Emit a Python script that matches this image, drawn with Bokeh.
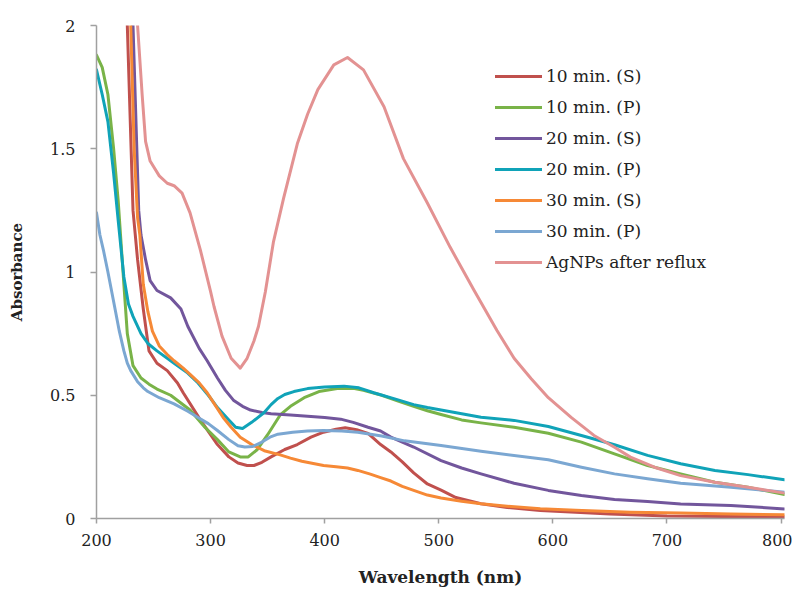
from bokeh.plotting import figure
from bokeh.models import Range1d, FixedTicker, CustomJSTickFormatter, Legend, LegendItem
from bokeh.embed import file_html
from bokeh.resources import INLINE

# ---- data ----
wl_10s = [225, 227, 232, 236, 239, 241, 246, 253, 262, 271, 276, 291, 306, 316, 324, 332, 338, 345, 353, 365, 376,
          388, 399, 410, 418, 428, 438, 449, 458, 468, 478, 490, 502, 515, 537, 560, 589, 620, 650, 700, 750, 803]
ab_10s = [2.3, 2.0, 1.25, 1.05, 0.93, 0.85, 0.68, 0.63, 0.60, 0.55, 0.51, 0.40, 0.30, 0.25, 0.225, 0.215, 0.215,
          0.228, 0.25, 0.28, 0.30, 0.33, 0.35, 0.362, 0.368, 0.36, 0.345, 0.30, 0.27, 0.23, 0.185, 0.14, 0.115,
          0.085, 0.06, 0.045, 0.032, 0.025, 0.018, 0.01, 0.008, 0.006]

wl_10p = [200, 205, 210, 215, 219, 224, 227, 232, 239, 246, 253, 265, 282, 295, 306, 316, 326, 333, 341, 350, 361,
          370, 382, 395, 411, 425, 434, 450, 465, 478, 490, 502, 520, 537, 566, 596, 625, 654, 683, 712, 742, 771,
          803]
ab_10p = [1.88, 1.83, 1.72, 1.50, 1.29, 0.95, 0.75, 0.62, 0.57, 0.545, 0.525, 0.50, 0.44, 0.37, 0.32, 0.27, 0.25,
          0.25, 0.28, 0.34, 0.42, 0.455, 0.49, 0.515, 0.527, 0.528, 0.52, 0.50, 0.475, 0.455, 0.437, 0.422, 0.40,
          0.388, 0.37, 0.346, 0.31, 0.262, 0.215, 0.181, 0.147, 0.127, 0.097]

wl_20s = [230, 232, 235, 237, 239, 243, 247, 253, 265, 274, 280, 290, 297, 306, 313, 320, 328, 335, 345, 353, 370,
          385, 400, 414, 425, 438, 449, 458, 478, 502, 520, 537, 566, 596, 625, 654, 683, 712, 756, 803]
ab_20s = [2.3, 2.0, 1.55, 1.25, 1.15, 1.05, 0.965, 0.925, 0.895, 0.85, 0.78, 0.69, 0.64, 0.57, 0.52, 0.48, 0.455,
          0.44, 0.43, 0.425, 0.42, 0.415, 0.41, 0.403, 0.39, 0.37, 0.355, 0.33, 0.29, 0.235, 0.205, 0.181, 0.143,
          0.114, 0.093, 0.077, 0.069, 0.059, 0.053, 0.039]

wl_20p = [200, 205, 210, 215, 219, 224, 228, 232, 239, 245, 253, 268, 280, 289, 298, 306, 316, 322, 328, 336, 347,
          353, 359, 365, 373, 385, 400, 417, 430, 443, 465, 478, 490, 502, 537, 566, 596, 625, 654, 683, 712, 742,
          771, 803]
ab_20p = [1.82, 1.72, 1.61, 1.40, 1.21, 0.98, 0.87, 0.82, 0.75, 0.71, 0.68, 0.63, 0.59, 0.55, 0.50, 0.45, 0.40,
          0.37, 0.365, 0.39, 0.43, 0.462, 0.487, 0.503, 0.515, 0.527, 0.533, 0.537, 0.53, 0.51, 0.48, 0.462, 0.45,
          0.44, 0.411, 0.398, 0.373, 0.337, 0.299, 0.256, 0.222, 0.195, 0.178, 0.157]

wl_30s = [228, 230, 233, 236, 238, 241, 245, 249, 255, 262, 268, 276, 282, 290, 297, 304, 311, 318, 326, 336, 347,
          361, 370, 380, 390, 399, 410, 420, 429, 440, 449, 458, 468, 478, 490, 502, 520, 537, 560, 589, 620, 668,
          712, 756, 803]
ab_30s = [2.3, 2.0, 1.5, 1.22, 1.15, 0.95, 0.84, 0.76, 0.70, 0.665, 0.64, 0.61, 0.585, 0.55, 0.51, 0.46, 0.41, 0.37,
          0.33, 0.30, 0.275, 0.258, 0.245, 0.232, 0.223, 0.215, 0.21, 0.205, 0.195, 0.18, 0.166, 0.152, 0.13, 0.114,
          0.095, 0.083, 0.07, 0.06, 0.05, 0.04, 0.033, 0.025, 0.022, 0.018, 0.015]

wl_30p = [200, 203, 206, 210, 215, 220, 224, 227, 230, 236, 241, 245, 255, 268, 280, 289, 298, 306, 316, 324, 330,
          337, 345, 352, 359, 372, 385, 399, 415, 429, 450, 470, 502, 537, 596, 625, 654, 683, 712, 756, 803]
ab_30p = [1.24, 1.15, 1.09, 1.0, 0.88, 0.76, 0.68, 0.63, 0.60, 0.555, 0.53, 0.515, 0.49, 0.465, 0.435, 0.41, 0.385,
          0.357, 0.32, 0.295, 0.29, 0.292, 0.31, 0.33, 0.342, 0.35, 0.355, 0.357, 0.355, 0.35, 0.335, 0.315, 0.296,
          0.273, 0.238, 0.208, 0.181, 0.161, 0.143, 0.127, 0.107]

wl_ag = [233, 236, 240, 243, 247, 255, 262, 268, 275, 282, 291, 300, 303, 310, 318, 326, 332, 338, 342, 348, 355,
         364, 376, 385, 394, 408, 420, 434, 452, 469, 490, 510, 531, 551, 566, 581, 596, 616, 636, 654, 668, 689,
         712, 742, 771, 803]
ab_ag = [2.3, 2.0, 1.72, 1.53, 1.45, 1.39, 1.36, 1.35, 1.32, 1.24, 1.09, 0.92, 0.86, 0.74, 0.65, 0.61, 0.65, 0.72,
         0.78, 0.92, 1.12, 1.30, 1.52, 1.64, 1.74, 1.84, 1.87, 1.82, 1.67, 1.46, 1.28, 1.10, 0.925, 0.763, 0.65,
         0.567, 0.49, 0.41, 0.337, 0.289, 0.249, 0.208, 0.174, 0.147, 0.127, 0.103]

series_names = ["10 min. (S)", "10 min. (P)", "20 min. (S)", "20 min. (P)", "30 min. (S)", "30 min. (P)",
                "AgNPs after reflux"]
series_x = [wl_10s, wl_10p, wl_20s, wl_20p, wl_30s, wl_30p, wl_ag]
series_y = [ab_10s, ab_10p, ab_20s, ab_20p, ab_30s, ab_30p, ab_ag]
colors = ["#C0504D", "#79B348", "#72569C", "#10A3B8", "#F68936", "#7BA7D2", "#E39292"]

x_ticks = [200, 300, 400, 500, 600, 700, 800]
y_ticks = [0, 0.5, 1, 1.5, 2]

FONT = "DejaVu Serif"

p = figure(width=792, height=590, output_backend="svg", toolbar_location=None,
           x_range=Range1d(200, 803), y_range=Range1d(0, 2))
p.min_border_left = 96
p.min_border_right = 8
p.min_border_top = 25
p.min_border_bottom = 72
p.outline_line_color = None
p.background_fill_color = "white"
p.border_fill_color = "white"
p.xgrid.visible = False
p.ygrid.visible = False

renderers = []
for xs, ys, c in zip(series_x, series_y, colors):
    r = p.line(xs, ys, line_color=c, line_width=3, line_join="round", line_cap="round")
    renderers.append(r)

for ax in (p.xaxis[0], p.yaxis[0]):
    ax.axis_line_color = "#A0A0A0"
    ax.axis_line_width = 1.5
    ax.major_tick_line_color = "#A0A0A0"
    ax.major_tick_line_width = 1.5
    ax.minor_tick_line_color = None
    ax.major_tick_in = 0
    ax.major_label_text_font = FONT
    ax.major_label_text_color = "#222222"
    ax.major_label_text_font_size = "16px"
    ax.axis_label_text_font = FONT
    ax.axis_label_text_font_style = "bold"
    ax.axis_label_text_color = "#222222"

p.xaxis.ticker = FixedTicker(ticks=x_ticks)
p.yaxis.ticker = FixedTicker(ticks=y_ticks)
p.yaxis.formatter = CustomJSTickFormatter(code="return tick.toString();")
p.xaxis.major_tick_out = 5
p.yaxis.major_tick_out = 6
p.xaxis.major_label_standoff = 10
p.yaxis.major_label_standoff = 15
p.xaxis.axis_label = "Wavelength (nm)"
p.yaxis.axis_label = "Absorbance"
p.xaxis.axis_label_standoff = 18
p.yaxis.axis_label_standoff = 21
p.xaxis.axis_label_text_font_size = "17px"
p.yaxis.axis_label_text_font_size = "15px"

items = [LegendItem(label=n, renderers=[r]) for n, r in zip(series_names, renderers)]
legend = Legend(items=items, location=(399, 246))
legend.background_fill_alpha = 0
legend.border_line_color = None
legend.padding = 0
legend.margin = 0
legend.glyph_width = 47
legend.glyph_height = 20
legend.label_height = 20
legend.spacing = 11
legend.label_standoff = 4
legend.label_text_font = FONT
legend.label_text_font_size = "17px"
legend.label_text_color = "#222222"
p.add_layout(legend, "center")

open("out.html", "w").write(file_html(p, INLINE))
